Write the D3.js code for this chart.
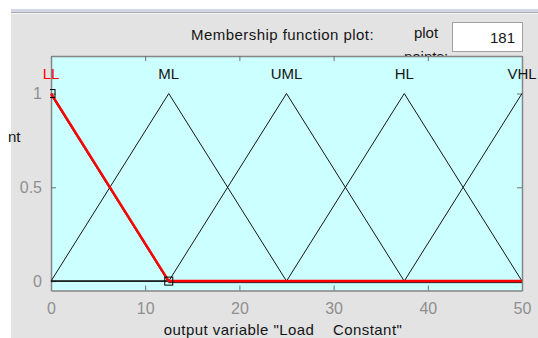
<!DOCTYPE html>
<html>
<head>
<meta charset="utf-8">
<script src="https://cdn.jsdelivr.net/npm/d3@7/dist/d3.min.js"></script>
<style>
  html, body { margin: 0; padding: 0; background: #ffffff; }
  svg { display: block; font-family: "Liberation Sans", Arial, sans-serif; }
  svg text { white-space: pre; }
</style>
</head>
<body>
<svg id="chart" width="538" height="338"></svg>
<script>
// Membership functions of the output variable (triangular: a, b, c)
const mfNames = ["LL", "ML", "UML", "HL", "VHL"];
const mfParams = [
  [-12.5, 0, 12.5],
  [0, 12.5, 25],
  [12.5, 25, 37.5],
  [25, 37.5, 50],
  [37.5, 50, 62.5]
];
const selectedMf = 0;
const xRange = [0, 50];
const yRange = [-0.05, 1.2];
const xTicks = [0, 10, 20, 30, 40, 50];
const yTicks = [0, 0.5, 1];
const plotPoints = "181";
const xLabel = 'output variable "Load    Constant"';

const svg = d3.select("#chart");

// window background
svg.append("rect").attr("x", 0).attr("y", 0).attr("width", 538).attr("height", 338).attr("fill", "#ffffff");
svg.append("rect").attr("x", 11).attr("y", 9).attr("width", 527).attr("height", 329).attr("fill", "#e3e3e3");
svg.append("rect").attr("x", 11).attr("y", 9).attr("width", 527).attr("height", 3).attr("fill", "#d3d6e8");
svg.append("rect").attr("x", 11).attr("y", 12).attr("width", 527).attr("height", 1).attr("fill", "#a9a9a9");
svg.append("rect").attr("x", 11).attr("y", 13).attr("width", 527).attr("height", 1).attr("fill", "#f7f7f7");

const txt = "#151515";
const fs = 15;

// header controls
svg.append("text").attr("x", 191).attr("y", 40).attr("font-size", fs).attr("letter-spacing", 0.45).attr("fill", txt)
  .text("Membership function plot:");
svg.append("text").attr("x", 426).attr("y", 38).attr("font-size", fs).attr("text-anchor", "middle").attr("fill", txt)
  .text("plot");
svg.append("text").attr("x", 426).attr("y", 62).attr("font-size", fs).attr("text-anchor", "middle").attr("fill", txt)
  .text("points:");
svg.append("rect").attr("x", 452.5).attr("y", 22.5).attr("width", 70).attr("height", 29)
  .attr("fill", "#ffffff").attr("stroke", "#a0a0a0");
svg.append("text").attr("x", 515).attr("y", 43).attr("font-size", fs).attr("text-anchor", "end").attr("fill", txt)
  .text(plotPoints);

// y-axis label fragment
svg.append("text").attr("x", 8).attr("y", 142).attr("font-size", fs).attr("fill", txt).text("nt");

// plot area
const margin = { left: 51, right: 522, top: 56, bottom: 290.5 };
const x = d3.scaleLinear().domain(xRange).range([margin.left, margin.right]);
const y = d3.scaleLinear().domain(yRange).range([margin.bottom, margin.top]);

svg.append("rect")
  .attr("x", x(xRange[0])).attr("y", y(yRange[1]))
  .attr("width", x(xRange[1]) - x(xRange[0])).attr("height", y(yRange[0]) - y(yRange[1]))
  .attr("fill", "#ccffff");

svg.append("defs").append("clipPath").attr("id", "plotclip")
  .append("rect")
  .attr("x", x(xRange[0]) - 1).attr("y", y(yRange[1]))
  .attr("width", x(xRange[1]) - x(xRange[0]) + 2).attr("height", y(yRange[0]) - y(yRange[1]));

// axes (ticks point inward, labels only on bottom/left)
const axB = svg.append("g").attr("transform", `translate(0,${y(yRange[0])})`)
  .call(d3.axisBottom(x).tickValues(xTicks).tickSizeInner(-5).tickSizeOuter(0).tickPadding(12).tickFormat(d3.format("d")));
const axT = svg.append("g").attr("transform", `translate(0,${y(yRange[1])})`)
  .call(d3.axisTop(x).tickValues(xTicks).tickSizeInner(-5).tickSizeOuter(0).tickFormat(""));
const axL = svg.append("g").attr("transform", `translate(${x(xRange[0])},0)`)
  .call(d3.axisLeft(y).tickValues(yTicks).tickSizeInner(-5).tickSizeOuter(0).tickPadding(9).tickFormat(d => d === 0.5 ? "0.5" : d3.format("d")(d)));
const axR = svg.append("g").attr("transform", `translate(${x(xRange[1])},0)`)
  .call(d3.axisRight(y).tickValues(yTicks).tickSizeInner(-5).tickSizeOuter(0).tickFormat(""));
[axB, axT, axL, axR].forEach(g => {
  g.select(".domain").attr("stroke", "#858585").attr("stroke-width", 1.5);
  g.selectAll(".tick line").attr("stroke", "#707070");
  g.selectAll(".tick text").attr("fill", "#8f8f8f").attr("font-size", 16)
    .attr("font-family", "'Liberation Sans', Arial, sans-serif");
});

// polyline of a triangular MF across the variable range
function mfPoints(p) {
  const [a, b, c] = p;
  const mu = v => Math.max(0, Math.min((v - a) / (b - a), (c - v) / (c - b)));
  const xs = [xRange[0], a, b, c, xRange[1]]
    .filter(v => v >= xRange[0] && v <= xRange[1]);
  return Array.from(new Set(xs)).sort((m, n) => m - n).map(v => [v, mu(v)]);
}
const line = d3.line().x(d => x(d[0])).y(d => y(d[1]));

const curves = svg.append("g").attr("clip-path", "url(#plotclip)");
mfParams.forEach((p, i) => {
  if (i === selectedMf) return;
  curves.append("path").attr("d", line(mfPoints(p)))
    .attr("fill", "none").attr("stroke", txt).attr("stroke-width", 1);
});
// baseline shadow beneath the selected curve
curves.append("path").attr("d", line(mfPoints(mfParams[selectedMf])))
  .attr("fill", "none").attr("stroke", txt).attr("stroke-width", 1)
  .attr("transform", "translate(0,1.5)");
curves.append("path").attr("d", line(mfPoints(mfParams[selectedMf])))
  .attr("fill", "none").attr("stroke", "#ff0000").attr("stroke-width", 2.5);

// vertex handles of the selected MF
const handles = mfParams[selectedMf].map((v, i) => [v, i === 1 ? 1 : 0])
  .filter(d => d[0] >= xRange[0] && d[0] <= xRange[1]);
curves.selectAll("rect.handle").data(handles).join("rect")
  .attr("class", "handle")
  .attr("x", d => x(d[0]) - 4).attr("y", d => y(d[1]) - 4)
  .attr("width", 8).attr("height", 8)
  .attr("fill", "none").attr("stroke", "#000000").attr("stroke-width", 1);

// MF names above their peaks
svg.selectAll("text.mfname").data(mfNames).join("text")
  .attr("class", "mfname")
  .attr("x", (d, i) => x(mfParams[i][1]))
  .attr("y", 79)
  .attr("text-anchor", "middle")
  .attr("font-size", fs)
  .attr("fill", (d, i) => i === selectedMf ? "#ff0000" : txt)
  .text(d => d);

// x-axis title
svg.append("text").attr("x", 283).attr("y", 335).attr("text-anchor", "middle")
  .attr("font-size", fs).attr("letter-spacing", 0.45).attr("fill", txt).text(xLabel);
</script>
</body>
</html>
